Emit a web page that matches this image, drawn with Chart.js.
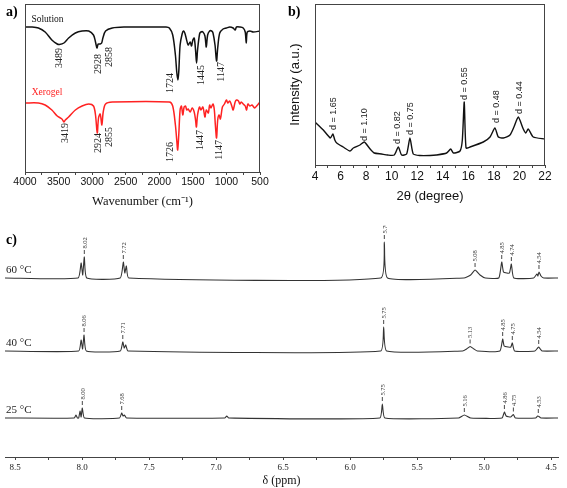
<!DOCTYPE html>
<html>
<head>
<meta charset="utf-8">
<script src="https://cdn.jsdelivr.net/npm/chart.js@4.4.0/dist/chart.umd.min.js"></script>
<style>
html, body { margin: 0; padding: 0; background: #fff; }
body { width: 567px; height: 488px; position: relative; overflow: hidden; }
canvas { position: absolute; }
.tag { position: absolute; font: bold 14px "Liberation Serif", serif; color: #000; line-height: 14px; }
</style>
</head>
<body>
<canvas id="irChart" width="290" height="222" style="left:0;top:0"></canvas>
<canvas id="xrdChart" width="277" height="222" style="left:290px;top:0"></canvas>
<canvas id="nmrChart" width="567" height="263" style="left:0;top:225px"></canvas>
<div class="tag" style="left:6px;top:5px">a)</div>
<div class="tag" style="left:288px;top:5px">b)</div>
<div class="tag" style="left:6px;top:233px">c)</div>
<script>
// a) FT-IR (arbitrary transmittance units)
const solWn = [4000,3900,3800,3700,3600,3520,3489,3420,3350,3250,3150,3050,2980,2950,2928,2910,2880,2858,2840,2800,2700,2500,2300,2100,1900,1850,1800,1760,1740,1724,1710,1690,1660,1640,1620,1600,1570,1540,1520,1500,1480,1460,1445,1430,1400,1380,1350,1320,1300,1280,1250,1220,1200,1170,1147,1130,1100,1050,1000,950,900,870,850,800,750,720,705,690,650,600,500];
const solT = [145,145,144,140,132,128,127.5,129,134,139,141,141,137,130,124,128,128,129,134,141,144,145,145,145,145,144,137,117,100,92,100,127,138,141,139,134,127,130,126,132,134,122,109,122,138,140,140,136,125,137,141,141,139,127,111,124,139,143,144,145,144,142,145,145,144,140,129,140,141,140,141];
const xerWn = [4000,3800,3700,3600,3520,3450,3419,3400,3350,3250,3150,3050,2980,2950,2924,2905,2880,2855,2835,2800,2700,1850,1800,1760,1740,1726,1710,1690,1670,1650,1630,1610,1590,1570,1540,1510,1480,1460,1447,1430,1400,1380,1350,1320,1300,1270,1250,1230,1200,1180,1165,1147,1130,1110,1090,1060,1030,1000,980,950,920,900,870,850,820,800,780,750,720,700,680,650,620,580,550,500];
const xerT = [69,69,67,62,56,53,50,52,55,62,66,68,66,57,39,54,58,47,60,68,70,70,66,47,32,22,37,62,66,57,65,66,62,63,60,64,60,52,45,57,65,62,65,55,62,59,67,64,68,62,47,34,52,57,53,65,68,72,69,71,66,62,70,72,71,68,70,68,66,62,68,66,67,64,66,70];
const irTicks = [500,750,1000,1250,1500,1750,2000,2250,2500,2750,3000,3250,3500,3750,4000];
const solLabels = [['3489',3489,124],['2928',2922,118],['2858',2748,125],['1724',1835,99],['1445',1374,107],['1147',1076,110]];
const xerLabels = [['3419',3404,49],['2924',2922,39],['2855',2748,45],['1726',1840,30],['1447',1389,42],['1147',1106,32]];

// b) XRD
const xrdAngle = [4.0,4.65,5.2,5.4,5.55,5.7,6.2,6.74,7.0,7.52,7.86,8.25,8.64,9.2,9.69,10.2,10.52,10.78,11.17,11.43,11.69,12.2,13.0,13.5,14.3,14.62,14.83,15.35,15.53,15.68,15.82,16.13,17.17,17.7,18.08,18.35,18.74,19.26,19.57,19.91,20.3,20.5,20.69,21.08,22.0];
const xrdIntensity = [43,35,27,31,25,22,18,14,17,20,23,17,12,11,10,10,18,10,11,27,11,9.5,9.5,10,12,16,12,14,25,63,17,18,23,28,37,28,27,30,38,48,36,32,36,28,26];
const xrdTicks = [4,5,6,7,8,9,10,11,12,13,14,15,16,17,18,19,20,21,22];
const xrdLabels = [['d = 1.65',5.4,35],['d = 1.10',7.83,24],['d = 0.82',10.44,21],['d = 0.75',11.43,30],['d = 0.55',15.68,65],['d = 0.48',18.16,42],['d = 0.44',19.96,51]];

// c) 1H NMR at three temperatures, [ppm, intensity]
const nmrTemps = ['60 \u00b0C', '40 \u00b0C', '25 \u00b0C'];
const nmr60 = [[8.575,0],[8.03,0],[8.007,15],[7.995,3],[7.983,21],[7.965,0],[7.715,0],[7.692,16],[7.681,5],[7.669,12],[7.652,0],[5.77,0],[5.744,36],[5.72,0],[5.15,0],[5.1,3],[5.067,8],[5.03,3],[4.99,0],[4.89,0],[4.868,16],[4.855,6],[4.83,5],[4.81,5],[4.796,14],[4.778,0],[4.63,0],[4.605,4],[4.598,2],[4.59,6],[4.575,2],[4.555,0],[4.448,0]];
const nmr40 = [[8.575,0],[8.025,0],[8.007,11],[7.996,2],[7.985,16],[7.968,0],[7.715,0],[7.696,9],[7.685,3],[7.674,6],[7.657,0],[5.772,0],[5.749,24],[5.727,0],[5.16,0],[5.13,2],[5.104,4.5],[5.075,2],[5.05,0],[4.882,0],[4.861,12],[4.85,5],[4.82,4],[4.8,4],[4.789,8],[4.772,0],[4.62,0],[4.6,3],[4.592,4],[4.58,2],[4.565,0],[4.448,0]];
const nmr25 = [[8.575,0],[8.058,0],[8.045,3],[8.035,0],[8.025,0],[8.015,7],[8.007,1],[7.998,10],[7.982,0],[7.72,0],[7.704,5],[7.694,2],[7.684,3],[7.668,0],[6.935,0],[6.92,2],[6.905,0],[5.778,0],[5.759,14],[5.74,0],[5.19,0],[5.147,3],[5.1,0],[4.866,0],[4.848,6],[4.835,2],[4.8,1],[4.781,3.5],[4.766,0],[4.615,0],[4.6,2],[4.59,1.5],[4.575,0],[4.448,0]];
const nmrPeaks60 = [['8.02',7.983,21],['7.72',7.692,16],['5.76',5.744,36],['5.08',5.067,8],['4.85',4.868,16],['4.74',4.796,14],['4.54',4.59,6]];
const nmrPeaks40 = [['8.06',7.985,16],['7.71',7.696,9],['5.75',5.749,24],['5.13',5.104,4.5],['4.85',4.861,12],['4.75',4.789,8],['4.54',4.592,4]];
const nmrPeaks25 = [['8.00',7.998,10],['7.68',7.704,5],['5.75',5.759,14],['5.16',5.147,3],['4.86',4.848,6],['4.75',4.781,3.5],['4.53',4.595,2]];
const nmrTicks = [4.5,4.75,5.0,5.25,5.5,5.75,6.0,6.25,6.5,6.75,7.0,7.25,7.5,7.75,8.0,8.25,8.5];
const stackOffset = [179, 106, 39];

const serif = 'Liberation Serif';
const sans = 'Liberation Sans';

// draws rotated/plain text at data coordinates, plus an optional frame round the plot
const textMarks = {
    id: 'textMarks',
    afterDatasetsDraw(chart, args, opts) {
        const ctx = chart.ctx;
        const xs = chart.scales.x, ys = chart.scales.y;
        ctx.save();
        (opts.items || []).forEach(it => {
            const px = xs.getPixelForValue(it.x);
            const py = ys.getPixelForValue(it.y) - (it.gap || 0);
            ctx.save();
            ctx.translate(px, py);
            if (it.rotate) ctx.rotate(-Math.PI / 2);
            ctx.font = it.font;
            ctx.fillStyle = it.color;
            ctx.textAlign = it.align || 'left';
            ctx.textBaseline = 'middle';
            let start = 0;
            if (it.lead) {
                ctx.strokeStyle = it.color;
                ctx.lineWidth = 0.9;
                ctx.beginPath();
                ctx.moveTo(0, 0);
                ctx.lineTo(it.lead, 0);
                ctx.stroke();
                start = it.lead + 1.5;
            }
            ctx.fillText(it.text, start, 0.5);
            ctx.restore();
        });
        if (opts.frame) {
            const a = chart.chartArea;
            ctx.strokeStyle = opts.frame;
            ctx.lineWidth = 1;
            ctx.strokeRect(Math.round(a.left) + 0.5, Math.round(a.top) + 0.5, Math.round(a.right - a.left) - 1, Math.round(a.bottom - a.top));
        }
        ctx.restore();
    }
};
Chart.register(textMarks);

const pairs = (xs, ys) => xs.map((x, i) => ({ x: x, y: ys[i] }));

// ---- a) IR
const irItems = [
    { text: 'Solution', x: 3905, y: 153, font: '9.5px ' + serif, color: '#111' },
    { text: 'Xerogel', x: 3900, y: 80, font: '9.5px ' + serif, color: '#f22' }
];
solLabels.forEach(l => irItems.push({ text: l[0], x: l[1], y: l[2], rotate: true, align: 'right', font: '10px ' + serif, color: '#222' }));
xerLabels.forEach(l => irItems.push({ text: l[0], x: l[1], y: l[2], rotate: true, align: 'right', font: '10px ' + serif, color: '#222' }));

new Chart(document.getElementById('irChart'), {
    type: 'line',
    data: {
        datasets: [
            { label: 'Solution', data: pairs(solWn, solT), borderColor: '#111', borderWidth: 1.5, pointRadius: 0, tension: 0.3 },
            { label: 'Xerogel', data: pairs(xerWn, xerT), borderColor: '#f22', borderWidth: 1.5, pointRadius: 0, tension: 0.3 }
        ]
    },
    options: {
        responsive: false,
        animation: false,
        layout: { padding: { left: 25, right: 30, top: 4, bottom: 0 } },
        plugins: {
            legend: { display: false },
            tooltip: { enabled: false },
            textMarks: { items: irItems, frame: '#444' }
        },
        scales: {
            x: {
                type: 'linear', reverse: true, min: 500, max: 4000,
                afterBuildTicks: s => { s.ticks = irTicks.map(v => ({ value: v })); },
                afterFit: s => { s.height = 50; },
                ticks: { autoSkip: false, maxRotation: 0, padding: 1, color: '#111', font: { family: sans, size: 10.5 },
                    callback: v => (v % 500 === 0 ? String(v) : '') },
                grid: { drawOnChartArea: false, drawTicks: true, tickLength: 3, color: '#444' },
                border: { display: true, color: '#444' },
                title: { display: true, text: 'Wavenumber (cm\u207b\u00b9)', color: '#111', font: { family: serif, size: 12.5 }, padding: { top: 0, bottom: 13 } }
            },
            y: { display: false, min: 0, max: 168 }
        }
    }
});

// ---- b) XRD
const xrdItems = xrdLabels.map(l => ({ text: l[0], x: l[1], y: l[2], rotate: true, align: 'left', font: '9px ' + sans, color: '#222' }));

new Chart(document.getElementById('xrdChart'), {
    type: 'line',
    data: {
        datasets: [
            { label: 'XRD', data: pairs(xrdAngle, xrdIntensity), borderColor: '#111', borderWidth: 1.4, pointRadius: 0, tension: 0.2 }
        ]
    },
    options: {
        responsive: false,
        animation: false,
        layout: { padding: { left: 0, right: 22, top: 4, bottom: 0 } },
        plugins: {
            legend: { display: false },
            tooltip: { enabled: false },
            textMarks: { items: xrdItems, frame: '#444' }
        },
        scales: {
            x: {
                type: 'linear', min: 4, max: 22,
                afterBuildTicks: s => { s.ticks = xrdTicks.map(v => ({ value: v })); },
                afterFit: s => { s.height = 57; },
                ticks: { autoSkip: false, maxRotation: 0, padding: 1, color: '#111', font: { family: sans, size: 12 },
                    callback: v => (v % 2 === 0 ? String(v) : '') },
                grid: { drawOnChartArea: false, drawTicks: true, tickLength: 3, color: '#444' },
                border: { display: true, color: '#444' },
                title: { display: true, text: '2\u03b8 (degree)', color: '#111', font: { family: sans, size: 13 }, padding: { top: 0, bottom: 18 } }
            },
            y: {
                min: 0, max: 161,
                afterFit: s => { s.width = 25; },
                ticks: { display: false },
                grid: { display: false },
                border: { display: false },
                title: { display: true, text: 'Intensity (a.u.)', color: '#111', font: { family: sans, size: 13 }, padding: { top: -2, bottom: 0 } }
            }
        }
    }
});

// ---- c) NMR
const nmrSets = [nmr60, nmr40, nmr25];
const nmrPeakSets = [nmrPeaks60, nmrPeaks40, nmrPeaks25];
const nmrItems = [];
nmrTemps.forEach((t, i) => {
    nmrItems.push({ text: t, x: 8.567, y: stackOffset[i] + 8, font: '11px ' + serif, color: '#222' });
    nmrPeakSets[i].forEach(p => nmrItems.push({ text: p[0], x: p[1], y: stackOffset[i] + p[2], gap: 3, lead: 4, rotate: true, align: 'left', font: '6.5px ' + serif, color: '#333' }));
});

new Chart(document.getElementById('nmrChart'), {
    type: 'line',
    data: {
        datasets: nmrSets.map((s, i) => ({
            label: nmrTemps[i],
            data: s.map(p => ({ x: p[0], y: p[1] + stackOffset[i] })),
            borderColor: '#333', borderWidth: 1.1, pointRadius: 0, tension: 0.15
        }))
    },
    options: {
        responsive: false,
        animation: false,
        layout: { padding: { left: 5, right: 9, top: 10, bottom: 0 } },
        plugins: {
            legend: { display: false },
            tooltip: { enabled: false },
            textMarks: { items: nmrItems }
        },
        scales: {
            x: {
                type: 'linear', reverse: true, min: 4.448, max: 8.575,
                afterBuildTicks: s => { s.ticks = nmrTicks.map(v => ({ value: v })); },
                afterFit: s => { s.height = 31; },
                ticks: { autoSkip: false, maxRotation: 0, padding: 2, color: '#222', font: { family: serif, size: 9 },
                    callback: v => (Math.round(v * 100) % 50 === 0 ? v.toFixed(1) : '') },
                grid: { drawOnChartArea: false, drawTicks: true, tickLength: 3, color: '#444' },
                border: { display: true, color: '#444' },
                title: { display: true, text: '\u03b4 (ppm)', color: '#111', font: { family: serif, size: 12 }, padding: { top: 0, bottom: 0 } }
            },
            y: { display: false, min: 0, max: 222 }
        }
    }
});
</script>
</body>
</html>
